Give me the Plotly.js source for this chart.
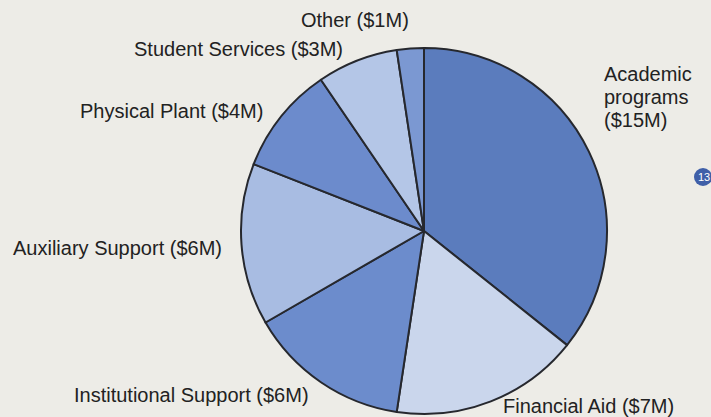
<!DOCTYPE html>
<html>
<head>
<meta charset="utf-8">
<script src="https://cdn.plot.ly/plotly-3.0.1.min.js"></script>
<style>
html,body{margin:0;padding:0;background:#edece7;}
#chart{width:711px;height:417px;}
</style>
</head>
<body>
<div id="chart"></div>
<script>
const categories = ["Academic programs", "Financial Aid", "Institutional Support", "Auxiliary Support", "Physical Plant", "Student Services", "Other"];
const values = [15, 7, 6, 6, 4, 3, 1];
const valueLabels = ["$15M", "$7M", "$6M", "$6M", "$4M", "$3M", "$1M"];
const sliceColors = ["#5b7cbd", "#cad6ec", "#6c8ccc", "#a8bce2", "#6c8bcc", "#b4c6e7", "#7b98d2"];

const trace = {
  type: "pie",
  labels: categories,
  values: values,
  sort: false,
  direction: "clockwise",
  rotation: 0,
  textinfo: "none",
  hoverinfo: "label+value",
  marker: {colors: sliceColors, line: {color: "#26282e", width: 2}},
  domain: {x: [241/711, 607/711], y: [(417-414)/417, (417-48)/417]},
  showlegend: false
};

const labelFont = {family: "Liberation Sans, Arial, sans-serif", size: 20, color: "#222222"};

// label placements in pixels (converted to paper coords)
const labelPos = [
  {x: 602, y: [74, 97, 120]},
  {x: 501, y: [406]},
  {x: 72, y: [395]},
  {x: 11, y: [248]},
  {x: 78, y: [111]},
  {x: 132, y: [49]},
  {x: 299, y: [20]}
];

const annotations = [];
categories.forEach((c, i) => {
  const p = labelPos[i];
  let lines;
  if (p.y.length > 1) {
    lines = c.split(" ").concat(["(" + valueLabels[i] + ")"]);
  } else {
    lines = [c + " (" + valueLabels[i] + ")"];
  }
  lines.forEach((t, k) => {
    annotations.push({
      xref: "paper", yref: "paper",
      x: p.x / 711, y: 1 - p.y[k] / 417,
      xanchor: "left", yanchor: "middle",
      align: "left",
      text: t, showarrow: false,
      font: labelFont
    });
  });
});

annotations.push({
  xref: "paper", yref: "paper",
  x: 696/711, y: 1 - 177/417, xanchor: "left", yanchor: "middle",
  text: "13", showarrow: false,
  font: {family: "Liberation Sans, Arial, sans-serif", size: 11, color: "#ffffff"}
});

const layout = {
  width: 711, height: 417,
  margin: {l: 0, r: 0, t: 0, b: 0},
  paper_bgcolor: "#edece7",
  plot_bgcolor: "#edece7",
  annotations: annotations,
  shapes: [{
    type: "circle", xref: "paper", yref: "paper",
    x0: 694/711, x1: 712/711, y0: 1 - 186/417, y1: 1 - 168/417,
    fillcolor: "#3f5fa8", line: {width: 0}, layer: "below"
  }]
};

Plotly.newPlot("chart", [trace], layout, {displayModeBar: false, staticPlot: true});
</script>
</body>
</html>
